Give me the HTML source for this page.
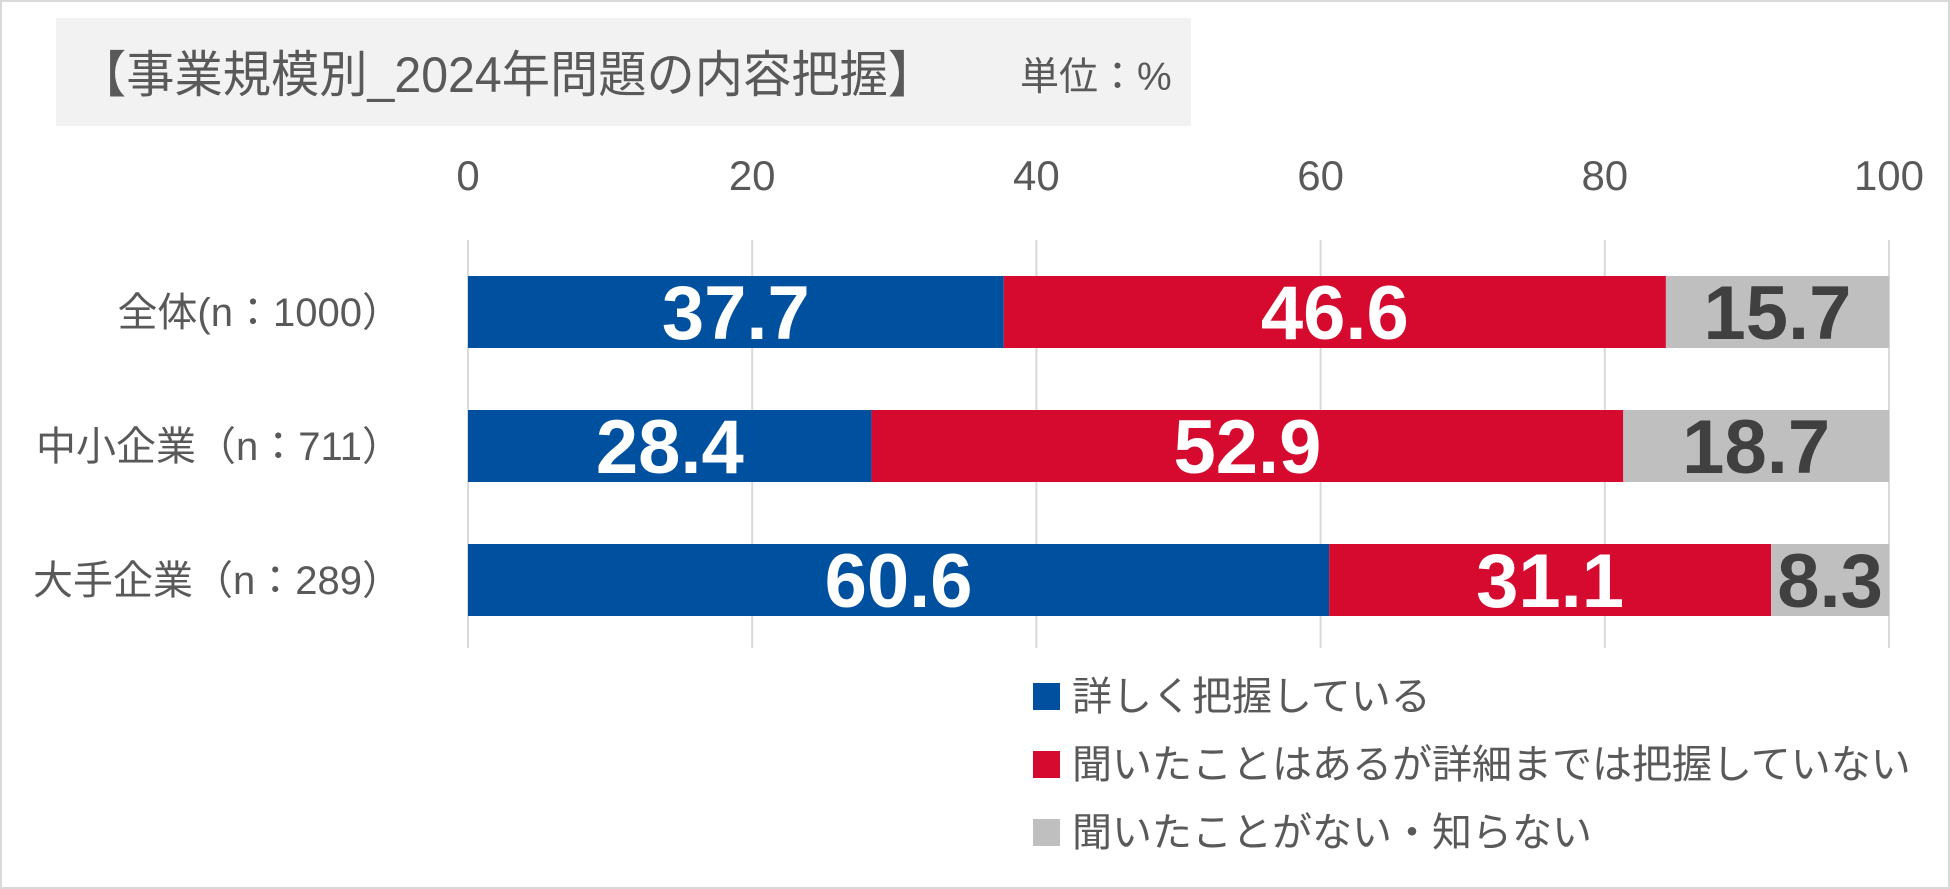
<!DOCTYPE html>
<html><head><meta charset="utf-8"><style>
html,body{margin:0;padding:0;background:#fff}
svg{display:block;font-family:"Liberation Sans","Noto Sans CJK JP",sans-serif}
</style></head><body>
<svg id="chart" width="1950" height="889" viewBox="0 0 1950 889">
<rect x="1" y="1" width="1948" height="887" fill="#fff" stroke="#d9d9d9" stroke-width="2"/>
<rect x="56" y="18" width="1135" height="108" fill="#f2f2f2"/>
<text x="78" y="92" font-size="50" fill="#595959" textLength="858" lengthAdjust="spacingAndGlyphs">【事業規模別_2024年問題の内容把握】</text>
<text x="1020" y="90" font-size="39" fill="#595959">単位：%</text>
<g id="grid"></g><g id="ticks"></g><g id="bars"></g><g id="cats"></g><g id="legend"></g>
</svg>
<script>
const categories = ["全体(n：1000）","中小企業（n：711）","大手企業（n：289）"];
const seriesNames = ["詳しく把握している","聞いたことはあるが詳細までは把握していない","聞いたことがない・知らない"];
const detailed = [37.7, 28.4, 60.6];
const heard = [46.6, 52.9, 31.1];
const never = [15.7, 18.7, 8.3];
const tickValues = [0,20,40,60,80,100];

const NS="http://www.w3.org/2000/svg";
const colors=["#0050a0","#d50a2e","#bfbfbf"];
const textColors=["#ffffff","#ffffff","#404040"];
const x0=468,x1=1889;
function xs(v){return x0+(v/100)*(x1-x0);}
const bandTop=276,bandStep=134,barH=72;
function yb(i){return bandTop+i*bandStep;}
function mk(tag,attrs,parent){const e=document.createElementNS(NS,tag);for(const k in attrs)e.setAttribute(k,attrs[k]);parent.appendChild(e);return e;}
const grid=document.getElementById('grid'),ticks=document.getElementById('ticks'),bars=document.getElementById('bars'),cats=document.getElementById('cats'),legend=document.getElementById('legend');
tickValues.forEach(t=>{
  const l=mk('line',{x1:xs(t),x2:xs(t),y1:240,y2:648,stroke:'#d9d9d9','stroke-width':2},grid);
  
  
  const tx=mk('text',{x:xs(t),y:190,'text-anchor':'middle','font-size':42,fill:'#595959'},ticks);
  tx.textContent=t;
  
  
});
const series=[detailed,heard,never];
categories.forEach((c,i)=>{
  let acc=0;
  series.forEach((s,j)=>{
    const v=s[i];
    const r=mk('rect',{x:xs(acc),y:yb(i),width:xs(acc+v)-xs(acc),height:barH,fill:colors[j]},bars);
    
    
    const t=mk('text',{x:(xs(acc)+xs(acc+v))/2,y:yb(i)+barH/2+27,'text-anchor':'middle','font-size':76,'font-weight':'bold',fill:textColors[j]},bars);
    t.textContent=v.toFixed(1);
    
    
    acc+=v;
  });
  const ct=mk('text',{x:402,y:yb(i)+barH/2+14,'text-anchor':'end','font-size':40,fill:'#595959'},cats);
  ct.textContent=c;
  
  
});
const legY=[696,764,832];
seriesNames.forEach((n,j)=>{
  const r=mk('rect',{x:1033,y:legY[j]-13,width:27,height:27,fill:colors[j]},legend);
  
  
  const t=mk('text',{x:1072,y:legY[j]+14,'font-size':40,fill:'#595959'},legend);
  t.textContent=n;
  
  
});
</script>
</body></html>
